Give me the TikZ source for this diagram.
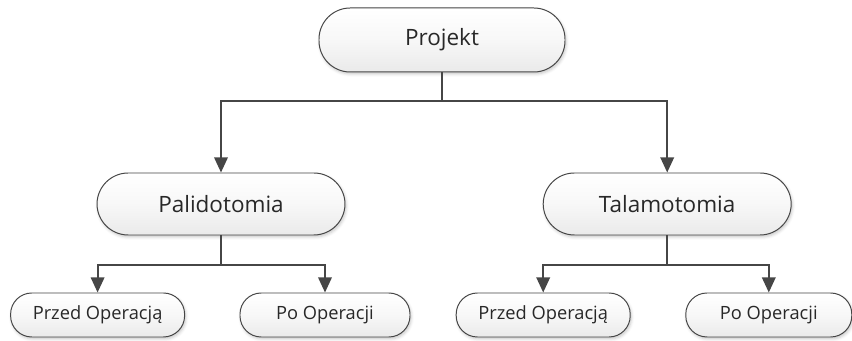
\documentclass[tikz,border=0pt]{standalone}
\usepackage{fontspec}
\setmainfont{Open Sans}
\usepackage{xcolor}
\usetikzlibrary{arrows.meta,shadows.blur}
\definecolor{edge}{RGB}{70,70,70}
\definecolor{txt}{RGB}{40,40,40}
\definecolor{shade}{RGB}{234,234,234}

\tikzset{
  pill/.style={draw=edge, line width=0.7pt, top color=white, bottom color=shade, middle color=white!97!black, text=txt,
    blur shadow={shadow xshift=0.8pt, shadow yshift=-1.4pt, shadow blur radius=2pt, shadow opacity=22}},
  bigbox/.style={pill, minimum width=6.15cm, minimum height=1.6cm, rounded corners=0.78cm,
    font=\fontsize{16}{18}\selectfont},
  leafbox/.style={pill, minimum height=1.1cm, rounded corners=0.53cm,
    font=\fontsize{13}{15}\selectfont},
  link/.style={draw=edge, line width=1.3pt, -{Triangle[width=0.34cm, length=0.38cm]}},
}

\begin{document}
\begin{tikzpicture}[x=1.0cm, y=1.0cm]
  \useasboundingbox (0,0) rectangle (21.3,8.525);
  % root and the two procedures
  \node[bigbox] (proj) at (11.05,7.525) {Projekt};
  \node[bigbox, minimum width=6.2cm, minimum height=1.55cm] (pali) at (5.525,3.425) {Palidotomia};
  \node[bigbox, minimum width=6.2cm, minimum height=1.55cm] (tala) at (16.68,3.425) {Talamotomia};
  % before / after for each
  \node[leafbox, minimum width=4.35cm] (pprzed) at (2.44,0.65) {Przed Operacją};
  \node[leafbox, minimum width=4.25cm] (ppo) at (8.125,0.65) {Po Operacji};
  \node[leafbox, minimum width=4.35cm] (tprzed) at (13.58,0.65) {Przed Operacją};
  \node[leafbox, minimum width=4.15cm] (tpo) at (19.22,0.65) {Po Operacji};
  % bus lines
  \coordinate (busA) at (0,6.0);
  \coordinate (busB) at (0,1.9);
  \draw[link] (proj.south) -- (proj.south |- busA) -| (pali.north);
  \draw[link] (proj.south) -- (proj.south |- busA) -| (tala.north);
  \draw[link] (pali.south) -- (pali.south |- busB) -| (pprzed.north);
  \draw[link] (pali.south) -- (pali.south |- busB) -| (ppo.north);
  \draw[link] (tala.south) -- (tala.south |- busB) -| (tprzed.north);
  \draw[link] (tala.south) -- (tala.south |- busB) -| (tpo.north);
\end{tikzpicture}
\end{document}
